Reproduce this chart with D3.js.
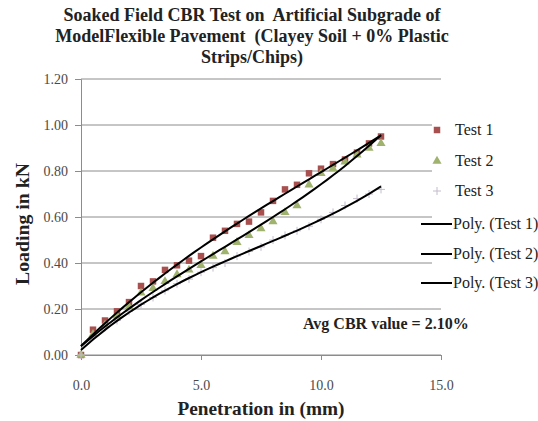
<!DOCTYPE html>
<html>
<head>
<meta charset="utf-8">
<script src="https://cdn.jsdelivr.net/npm/d3@7"></script>
<style>
  body { margin: 0; background: #fff; }
  text { font-family: "Liberation Serif", "Times New Roman", serif; white-space: pre; }
</style>
</head>
<body>
<div id="chart"></div>
<script>
// penetration readings (mm) and loads (kN) for the three tests
var penetration = [0, 0.5, 1.0, 1.5, 2.0, 2.5, 3.0, 3.5, 4.0, 4.5, 5.0, 5.5, 6.0,
                   6.5, 7.0, 7.5, 8.0, 8.5, 9.0, 9.5, 10.0, 10.5, 11.0, 11.5, 12.0, 12.5];
var test1 = [0, 0.11, 0.15, 0.19, 0.23, 0.30, 0.32, 0.37, 0.39, 0.41, 0.43, 0.51, 0.54,
             0.57, 0.58, 0.62, 0.67, 0.72, 0.74, 0.79, 0.81, 0.83, 0.85, 0.88, 0.92, 0.95];
var test2 = [0, 0.09, 0.13, 0.17, 0.21, 0.27, 0.29, 0.32, 0.35, 0.37, 0.39, 0.43, 0.45,
             0.49, 0.52, 0.55, 0.58, 0.62, 0.65, 0.74, 0.79, 0.81, 0.84, 0.87, 0.90, 0.92];
var test3 = [0, 0.08, 0.12, 0.15, 0.19, 0.22, 0.25, 0.28, 0.31, 0.33, 0.36, 0.38, 0.40,
             0.43, 0.45, 0.47, 0.50, 0.52, 0.54, 0.56, 0.59, 0.62, 0.65, 0.68, 0.70, 0.72];

var seriesNames = ["Test 1", "Test 2", "Test 3"];
var xTicks = [0, 5, 10, 15];
var yTicks = [0, 0.2, 0.4, 0.6, 0.8, 1.0, 1.2];
var titleLines = ["Soaked Field CBR Test on  Artificial Subgrade of",
                  "ModelFlexible Pavement  (Clayey Soil + 0% Plastic",
                  "Strips/Chips)"];

var w = 538, h = 421;
var x = d3.scaleLinear().domain([0, 15]).range([81, 441]);
var y = d3.scaleLinear().domain([0, 1.2]).range([355, 79]);

var svg = d3.select("#chart").append("svg")
  .attr("width", w).attr("height", h);

// gridlines
svg.append("g").selectAll("line")
  .data(yTicks).enter().append("line")
  .attr("x1", x(0)).attr("x2", x(15))
  .attr("y1", function(d) { return y(d); })
  .attr("y2", function(d) { return y(d); })
  .attr("stroke", "#8c8c8c").attr("stroke-width", 1);

// axes
var yAxis = d3.axisLeft(y).tickValues(yTicks).tickSize(6)
  .tickFormat(d3.format(".2f"));
var gy = svg.append("g").attr("transform", "translate(" + x(0) + ",0)").call(yAxis);
var xAxis = d3.axisBottom(x).tickValues(xTicks).tickSize(5)
  .tickFormat(d3.format(".1f"));
var gx = svg.append("g").attr("transform", "translate(0," + y(0) + ")").call(xAxis);
[gx, gy].forEach(function(g) {
  g.select(".domain").attr("stroke", "#8c8c8c");
  g.selectAll(".tick line").attr("stroke", "#8c8c8c");
  g.selectAll(".tick text").attr("fill", "#4a4a4a")
    .style("font-family", "Liberation Serif").style("font-size", "14px");
});
gy.selectAll(".tick text").attr("x", -13);
gx.selectAll(".tick text").attr("y", 25);

// polynomial least squares (order 3), like excel's poly trendline
function polyFit(xs, ys, order) {
  var n = order + 1;
  var m = [];
  for (var r = 0; r < n; r++) {
    m.push([]);
    for (var c = 0; c <= n; c++) m[r].push(0);
  }
  xs.forEach(function(xv, i) {
    for (var r = 0; r < n; r++) {
      for (var c = 0; c < n; c++) m[r][c] += Math.pow(xv, r + c);
      m[r][n] += ys[i] * Math.pow(xv, r);
    }
  });
  for (var i = 0; i < n; i++) {
    for (var j = i + 1; j < n; j++) {
      var f = m[j][i] / m[i][i];
      for (var k = i; k <= n; k++) m[j][k] -= f * m[i][k];
    }
  }
  var a = [];
  for (var i2 = n - 1; i2 >= 0; i2--) {
    var sum = m[i2][n];
    for (var c2 = i2 + 1; c2 < n; c2++) sum -= m[i2][c2] * a[c2];
    a[i2] = sum / m[i2][i2];
  }
  return function(v) {
    var s = 0;
    for (var p = 0; p < n; p++) s += a[p] * Math.pow(v, p);
    return s;
  };
}

var allSeries = [test1, test2, test3];
var line = d3.line().x(function(d) { return x(d[0]); }).y(function(d) { return y(d[1]); });

// markers
var sym = [d3.symbolSquare, d3.symbolTriangle];
var colors = ["#a8504f", "#9fb26e", "#c4bccc"];
var sizes = [42, 36];
function drawMarker(g, i, cx, cy) {
  if (i === 2) {
    g.append("path")
      .attr("d", "M" + (cx - 4) + "," + cy + "H" + (cx + 4) + "M" + cx + "," + (cy - 4) + "V" + (cy + 4))
      .attr("stroke", colors[i]).attr("stroke-width", 1);
  } else {
    g.append("path")
      .attr("d", d3.symbol().type(sym[i]).size(sizes[i])())
      .attr("transform", "translate(" + cx + "," + cy + ")")
      .attr("fill", colors[i]);
  }
}

allSeries.forEach(function(vals, i) {
  var g = svg.append("g");
  vals.forEach(function(v, j) {
    drawMarker(g, i, x(penetration[j]), y(v));
  });
});

// trendlines
allSeries.forEach(function(vals) {
  var f = polyFit(penetration, vals, 3);
  var pts = d3.range(0, 12.5001, 0.25).map(function(p) { return [p, f(p)]; });
  svg.append("path").attr("d", line(pts))
    .attr("fill", "none").attr("stroke", "#000").attr("stroke-width", 2);
});

// legend
var lg = svg.append("g");
lg.append("rect").attr("x", 432).attr("y", 116).attr("width", 106).attr("height", 180)
  .attr("fill", "#fff");
var rowsY = [130, 161, 191, 224, 254, 283];
seriesNames.forEach(function(n, i) {
  drawMarker(lg, i, 437, rowsY[i]);
  lg.append("text").attr("x", 455).attr("y", rowsY[i] + 5)
    .style("font-size", "16px").attr("fill", "#222").text(n);
});
seriesNames.forEach(function(n, i) {
  var yy = rowsY[i + 3];
  lg.append("line").attr("x1", 421).attr("x2", 452).attr("y1", yy).attr("y2", yy)
    .attr("stroke", "#000").attr("stroke-width", 2);
  lg.append("text").attr("x", 453).attr("y", yy + 5)
    .style("font-size", "16px").attr("fill", "#222").text("Poly. (" + n + ")");
});

// title
svg.append("g").selectAll("text").data(titleLines).enter().append("text")
  .attr("x", 252).attr("y", function(d, i) { return 21 + i * 21; })
  .attr("text-anchor", "middle").style("font-size", "18px").style("font-weight", "bold")
  .attr("fill", "#222").text(function(d) { return d; });

// axis titles
svg.append("text").attr("transform", "translate(29,224) rotate(-90)")
  .attr("text-anchor", "middle").style("font-size", "18px").style("font-weight", "bold")
  .attr("textLength", 122).attr("lengthAdjust", "spacingAndGlyphs")
  .attr("fill", "#222").text("Loading in kN");
svg.append("text").attr("x", 261).attr("y", 415)
  .attr("text-anchor", "middle").style("font-size", "18px").style("font-weight", "bold")
  .attr("textLength", 167).attr("lengthAdjust", "spacingAndGlyphs")
  .attr("fill", "#222").text("Penetration in (mm)");

svg.append("text").attr("x", 303).attr("y", 329)
  .style("font-size", "16px").style("font-weight", "bold")
  .attr("fill", "#222").text("Avg CBR value = 2.10%");
</script>
</body>
</html>
